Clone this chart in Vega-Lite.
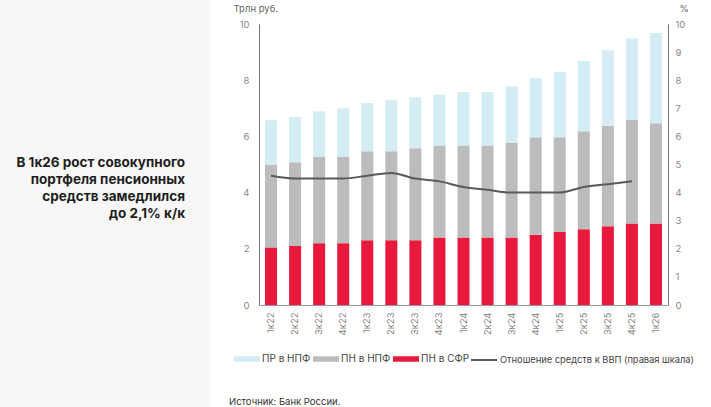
{
  "$schema": "https://vega.github.io/schema/vega-lite/v6.json",
  "padding": 0,
  "autosize": {"type": "pad"},
  "background": "white",
  "config": {"font": "Inter", "view": {"stroke": null}, "concat": {"spacing": 19}},
  "datasets": {
    "bars": [
      {"q":"1к22","s":"ПН в СФР","v":2.05},{"q":"1к22","s":"ПН в НПФ","v":2.95},{"q":"1к22","s":"ПР в НПФ","v":1.58},
      {"q":"2к22","s":"ПН в СФР","v":2.1},{"q":"2к22","s":"ПН в НПФ","v":2.98},{"q":"2к22","s":"ПР в НПФ","v":1.61},
      {"q":"3к22","s":"ПН в СФР","v":2.2},{"q":"3к22","s":"ПН в НПФ","v":3.07},{"q":"3к22","s":"ПР в НПФ","v":1.62},
      {"q":"4к22","s":"ПН в СФР","v":2.2},{"q":"4к22","s":"ПН в НПФ","v":3.07},{"q":"4к22","s":"ПР в НПФ","v":1.73},
      {"q":"1к23","s":"ПН в СФР","v":2.3},{"q":"1к23","s":"ПН в НПФ","v":3.17},{"q":"1к23","s":"ПР в НПФ","v":1.72},
      {"q":"2к23","s":"ПН в СФР","v":2.3},{"q":"2к23","s":"ПН в НПФ","v":3.17},{"q":"2к23","s":"ПР в НПФ","v":1.82},
      {"q":"3к23","s":"ПН в СФР","v":2.3},{"q":"3к23","s":"ПН в НПФ","v":3.28},{"q":"3к23","s":"ПР в НПФ","v":1.81},
      {"q":"4к23","s":"ПН в СФР","v":2.4},{"q":"4к23","s":"ПН в НПФ","v":3.28},{"q":"4к23","s":"ПР в НПФ","v":1.8},
      {"q":"1к24","s":"ПН в СФР","v":2.4},{"q":"1к24","s":"ПН в НПФ","v":3.28},{"q":"1к24","s":"ПР в НПФ","v":1.9},
      {"q":"2к24","s":"ПН в СФР","v":2.4},{"q":"2к24","s":"ПН в НПФ","v":3.28},{"q":"2к24","s":"ПР в НПФ","v":1.9},
      {"q":"3к24","s":"ПН в СФР","v":2.4},{"q":"3к24","s":"ПН в НПФ","v":3.37},{"q":"3к24","s":"ПР в НПФ","v":2.01},
      {"q":"4к24","s":"ПН в СФР","v":2.5},{"q":"4к24","s":"ПН в НПФ","v":3.47},{"q":"4к24","s":"ПР в НПФ","v":2.11},
      {"q":"1к25","s":"ПН в СФР","v":2.6},{"q":"1к25","s":"ПН в НПФ","v":3.37},{"q":"1к25","s":"ПР в НПФ","v":2.32},
      {"q":"2к25","s":"ПН в СФР","v":2.7},{"q":"2к25","s":"ПН в НПФ","v":3.48},{"q":"2к25","s":"ПР в НПФ","v":2.5},
      {"q":"3к25","s":"ПН в СФР","v":2.8},{"q":"3к25","s":"ПН в НПФ","v":3.58},{"q":"3к25","s":"ПР в НПФ","v":2.69},
      {"q":"4к25","s":"ПН в СФР","v":2.9},{"q":"4к25","s":"ПН в НПФ","v":3.68},{"q":"4к25","s":"ПР в НПФ","v":2.9},
      {"q":"1к26","s":"ПН в СФР","v":2.9},{"q":"1к26","s":"ПН в НПФ","v":3.57},{"q":"1к26","s":"ПР в НПФ","v":3.21}
    ],
    "series": [
      {"s":"ПН в СФР","k":1},{"s":"ПН в НПФ","k":2},{"s":"ПР в НПФ","k":3}
    ],
    "ratio": [
      {"q":"1к22","r":4.6},{"q":"2к22","r":4.5},{"q":"3к22","r":4.5},{"q":"4к22","r":4.5},
      {"q":"1к23","r":4.6},{"q":"2к23","r":4.7},{"q":"3к23","r":4.5},{"q":"4к23","r":4.4},
      {"q":"1к24","r":4.2},{"q":"2к24","r":4.1},{"q":"3к24","r":4.0},{"q":"4к24","r":4.0},
      {"q":"1к25","r":4.0},{"q":"2к25","r":4.2},{"q":"3к25","r":4.3},{"q":"4к25","r":4.4}
    ],
    "note": [{"t": ["В 1к26 рост совокупного", "портфеля пенсионных", "средств замедлился", "до 2,1% к/к"]}]
  },
  "hconcat": [
    {
      "width": 210,
      "height": 407,
      "view": {"fill": "#f7f7f7", "stroke": null},
      "data": {"name": "note"},
      "mark": {"type": "text", "align": "right", "baseline": "alphabetic", "fontWeight": "bold", "fontSize": 13.5, "lineHeight": 17, "color": "#1e1e1e", "x": 185, "y": 167},
      "encoding": {"text": {"field": "t"}}
    },
    {
      "width": 409,
      "height": 305,
      "title": {"text": "Источник: Банк России.", "orient": "bottom", "anchor": "start", "frame": "group", "dx": -30, "fontSize": 9.5, "fontWeight": "normal", "color": "#333", "offset": 62},
      "layer": [
        {
          "data": {"name": "bars"},
          "transform": [{"lookup": "s", "from": {"data": {"name": "series"}, "key": "s", "fields": ["k"]}}],
          "mark": {"type": "bar"},
          "encoding": {
            "x": {"field": "q", "type": "ordinal", "sort": null, "scale": {"paddingInner": 0.5, "paddingOuter": 0.25},
              "axis": {"title": null, "labelAngle": -90, "labelAlign": "right", "labelBaseline": "middle", "labelPadding": 7, "ticks": false, "domainColor": "#999", "labelColor": "#888", "labelFontSize": 9.5}},
            "y": {"field": "v", "type": "quantitative", "stack": "zero", "scale": {"domain": [0, 10], "range": [305, 24]},
              "axis": {"title": "Трлн руб.", "titleAngle": 0, "titleX": -26, "titleY": 11, "titleAlign": "left", "titleBaseline": "alphabetic", "titleFontWeight": "normal", "titleFontSize": 9.5, "titleColor": "#666", "values": [0, 2, 4, 6, 8, 10], "ticks": false, "grid": false, "domainColor": "#777", "labelColor": "#888", "labelFontSize": 9.5, "labelPadding": 10}},
            "order": {"field": "k", "type": "quantitative", "sort": "ascending"},
            "color": {"field": "s", "type": "nominal",
              "scale": {"domain": ["ПР в НПФ", "ПН в НПФ", "ПН в СФР"], "range": ["#d4ecf3", "#bcbcbe", "#e8193c"]},
              "legend": {"values": ["ПР в НПФ", "ПН в НПФ", "ПН в СФР"], "orient": "none", "legendX": 234, "legendY": 346, "direction": "horizontal", "columns": 3, "title": null, "symbolType": "M-1,-0.21H1V0.21H-1Z", "symbolSize": 676, "symbolStrokeWidth": 0, "labelOffset": 2, "columnPadding": 2, "labelFontSize": 10, "labelColor": "#444"}}
          }
        },
        {
          "data": {"name": "ratio"},
          "mark": {"type": "line", "interpolate": "monotone", "strokeWidth": 2},
          "encoding": {
            "x": {"field": "q", "type": "ordinal", "sort": null},
            "y": {"field": "r", "type": "quantitative", "scale": {"domain": [0, 10], "range": [305, 24]},
              "axis": {"orient": "right", "title": "%", "titleAngle": 0, "titleX": 11, "titleY": 11, "titleAlign": "left", "titleBaseline": "alphabetic", "titleFontWeight": "normal", "titleFontSize": 9.5, "titleColor": "#666", "values": [0, 1, 2, 3, 4, 5, 6, 7, 8, 9, 10], "ticks": false, "grid": false, "domainColor": "#777", "labelColor": "#888", "labelFontSize": 9.5, "labelPadding": 7}},
            "stroke": {"datum": "Отношение средств к ВВП (правая шкала)", "type": "nominal", "scale": {"range": ["#5a5a5a"]},
              "legend": {"orient": "none", "legendX": 470, "legendY": 346, "title": null, "symbolType": "stroke", "symbolSize": 676, "symbolStrokeWidth": 2, "labelOffset": 2, "labelLimit": 300, "labelFontSize": 9.3, "labelColor": "#444"}}
          }
        }
      ],
      "resolve": {"scale": {"y": "independent"}}
    }
  ]
}
